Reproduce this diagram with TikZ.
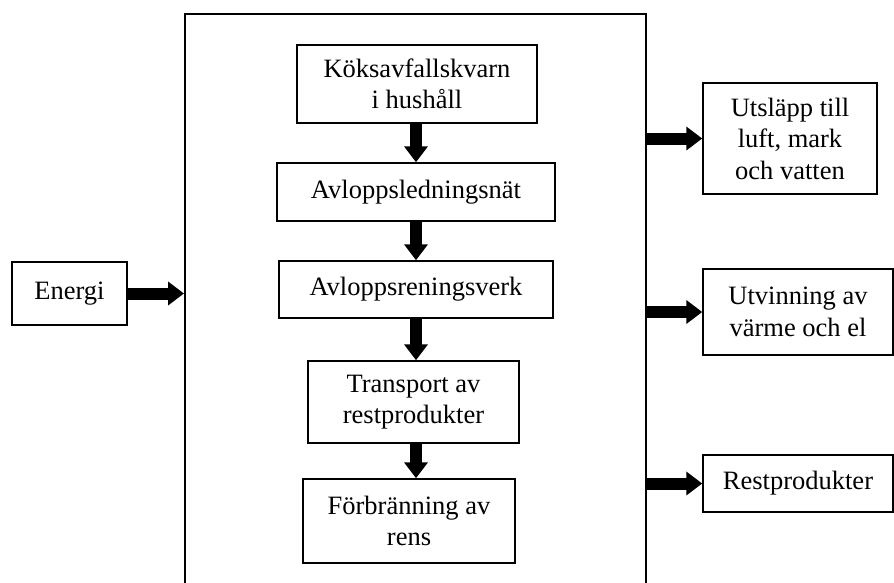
\documentclass[tikz,border=0pt]{standalone}
\usepackage{fontspec}
\setmainfont{Liberation Serif}
\usetikzlibrary{arrows.meta}
\begin{document}
\begin{tikzpicture}[x=1pt,y=-1pt,
  every node/.style={font=\fontsize{26.5}{31.5}\selectfont},
  box/.style={draw, line width=1.5pt, align=center, inner sep=0pt},
  flow/.style={line width=12pt, -{Triangle[length=16pt,width=23pt]}}]
  \useasboundingbox[fill=white] (0,0) rectangle (894,582);

  % system boundary (open at the bottom of the page)
  \node[draw, line width=1.5pt, minimum width=461pt, minimum height=640pt, inner sep=0pt,
        anchor=north west] (sys) at (184,13) {};

  % process chain
  \node[box, minimum width=240pt, minimum height=78pt] (kok) at (417,84)
    {K\"oksavfallskvarn\\i hush\aa ll};
  \node[box, minimum width=278pt, minimum height=58pt] (avl) at (416,192)
    {Avloppsledningsn\"at};
  \node[box, minimum width=274pt, minimum height=57pt] (ren) at (416,289.5)
    {Avloppsreningsverk};
  \node[box, minimum width=211pt, minimum height=82pt] (tra) at (413.5,402)
    {Transport av\\restprodukter};
  \node[box, minimum width=212pt, minimum height=84pt] (for) at (409,521)
    {F\"orbr\"anning av\\rens};

  % input and outputs
  \node[box, minimum width=115pt, minimum height=63pt] (en) at (69.5,293.5) {Energi};
  \node[box, minimum width=174pt, minimum height=111pt] (uts) at (790,138.5)
    {Utsl\"app till\\luft, mark\\och vatten};
  \node[box, minimum width=190pt, minimum height=86pt] (utv) at (798,312)
    {Utvinning av\\v\"arme och el};
  \node[box, minimum width=190pt, minimum height=57pt] (rest) at (798,483.5)
    {Restprodukter};

  % arrows
  \coordinate (ax) at (416,0);
  \draw[flow] (kok.south -| ax) -- (avl.north -| ax);
  \draw[flow] (avl.south -| ax) -- (ren.north -| ax);
  \draw[flow] (ren.south -| ax) -- (tra.north -| ax);
  \draw[flow] (tra.south -| ax) -- (for.north -| ax);

  \draw[flow] (en.east) -- (en.east -| sys.west);
  \draw[flow] (sys.east |- uts.west) -- (uts.west);
  \draw[flow] (sys.east |- utv.west) -- (utv.west);
  \draw[flow] (sys.east |- rest.west) -- (rest.west);
\end{tikzpicture}
\end{document}
